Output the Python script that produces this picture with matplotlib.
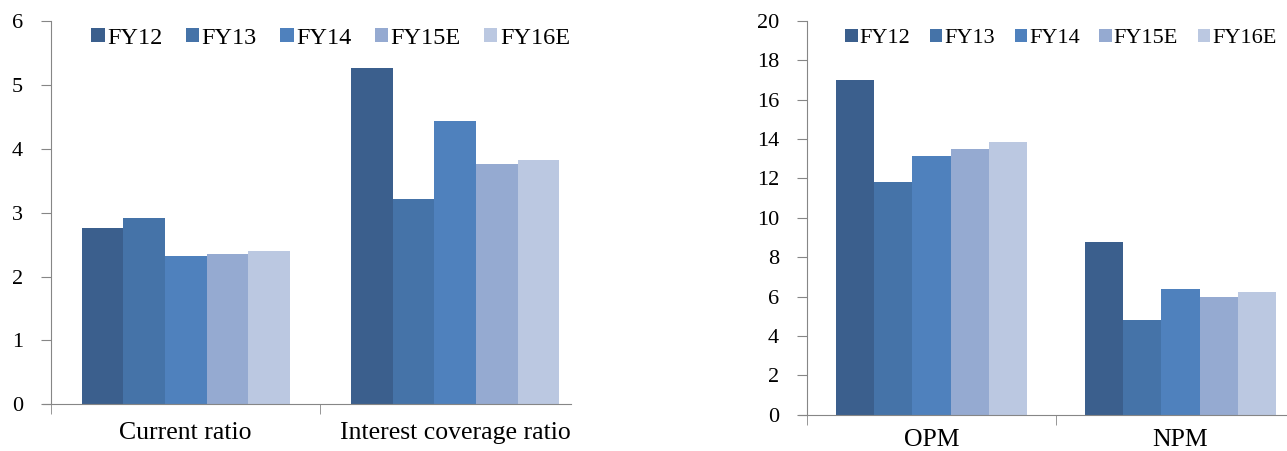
import numpy as np
import matplotlib
matplotlib.use("Agg")
import matplotlib.pyplot as plt

years = ["FY12", "FY13", "FY14", "FY15E", "FY16E"]
colors = ["#3b5f8d", "#4573a8", "#4f81bd", "#95aad1", "#bbc8e1"]

# liquidity / coverage ratios (x)
left_cats = ["Current ratio", "Interest coverage ratio"]
left_vals = {
    "FY12": [2.76, 5.27],
    "FY13": [2.92, 3.22],
    "FY14": [2.32, 4.44],
    "FY15E": [2.35, 3.76],
    "FY16E": [2.40, 3.83],
}

# margins (%)
right_cats = ["OPM", "NPM"]
right_vals = {
    "FY12": [17.02, 8.76],
    "FY13": [11.80, 4.80],
    "FY14": [13.12, 6.37],
    "FY15E": [13.49, 6.00],
    "FY16E": [13.86, 6.22],
}

plt.rcParams['font.family'] = ['Liberation Serif', 'DejaVu Serif']
axis_grey = "#868686"


def bar_panel(ax, cats, vals, ymax, ystep, group, leg_x, leg_size,
              leg_gap, spine_end, cat_pad):
    n = len(years)
    w = group / n
    x = np.arange(len(cats))
    for i, yr in enumerate(years):
        ax.bar(x - group / 2 + w * (i + 0.5), vals[yr], width=w,
               color=colors[i], label=yr, zorder=2)
    ax.set_xlim(-0.5, len(cats) - 0.5)
    ax.set_ylim(0, ymax)
    ax.set_yticks(np.arange(0, ymax + 0.01, ystep))
    ax.set_xticks(x)
    ax.set_xticklabels(cats, fontsize=18.5)
    # category separator ticks
    ax.set_xticks([-0.5, 0.5], minor=True)
    ax.tick_params(axis='x', which='major', length=0, pad=cat_pad)
    ax.tick_params(axis='x', which='minor', length=7, color=axis_grey,
                   direction='out')
    ax.tick_params(axis='y', length=7, color=axis_grey, labelsize=16, pad=13)
    for s in ['top', 'right']:
        ax.spines[s].set_visible(False)
    for s in ['left', 'bottom']:
        ax.spines[s].set_color(axis_grey)
    ax.spines['bottom'].set_bounds(-0.5 - 0.03, spine_end)
    ax.legend(loc='center left', bbox_to_anchor=(leg_x, 0.955), ncol=5,
              frameon=False, fontsize=leg_size, handlelength=0.55,
              handleheight=0.55, handletextpad=0.1, columnspacing=leg_gap,
              borderaxespad=0.0, borderpad=0.0)


fig = plt.figure(figsize=(12.87, 4.51), dpi=100)
ax1 = fig.add_axes([0.0396, 0.1036, 0.4188, 0.8498])
ax2 = fig.add_axes([0.627, 0.0805, 0.387, 0.873])

bar_panel(ax1, left_cats, left_vals, 6, 1, 0.773, 0.075, 17.5, 0.96, 1.43, 13)
bar_panel(ax2, right_cats, right_vals, 20, 2, 0.767, 0.077, 16, 0.88, 1.6, 10.5)

fig.savefig("out.png", dpi=100)
